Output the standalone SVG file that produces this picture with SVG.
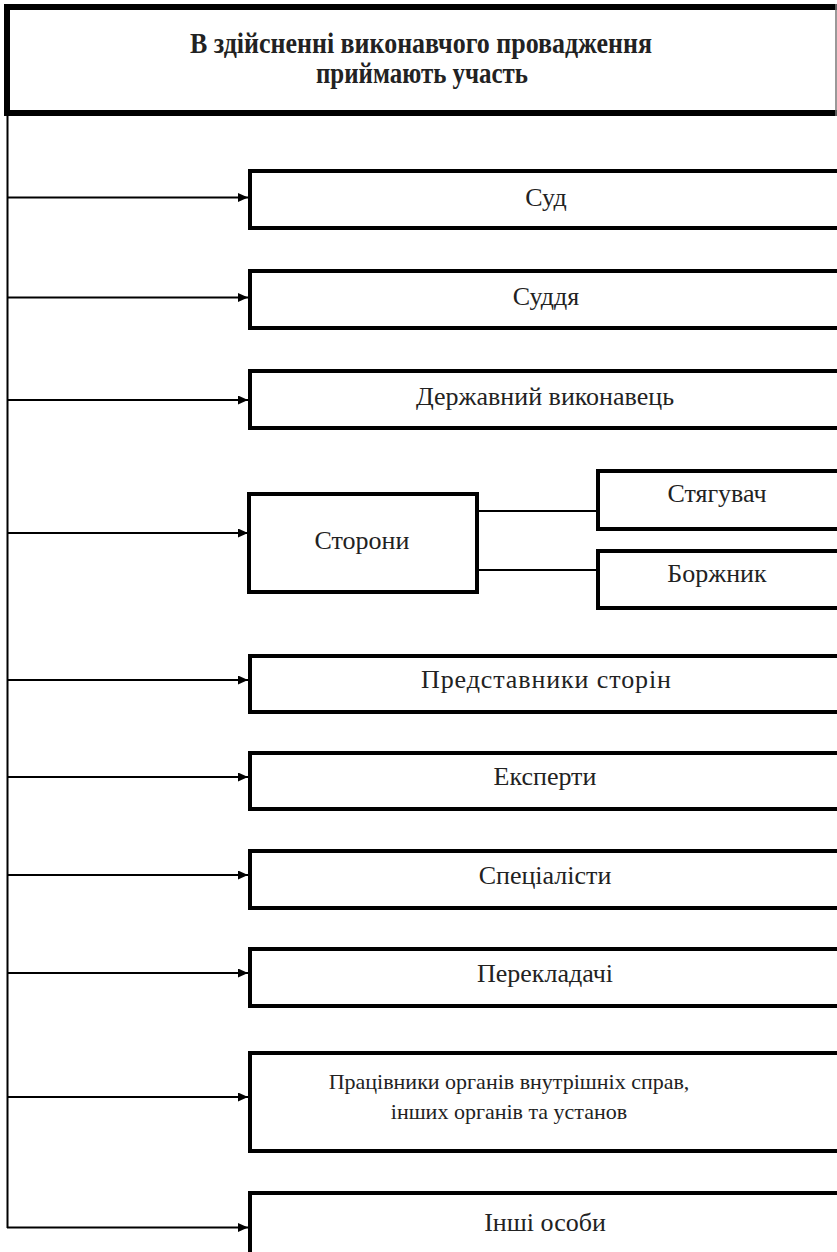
<svg xmlns="http://www.w3.org/2000/svg" width="837" height="1252" viewBox="0 0 837 1252">
<style>
.box{fill:#fff;stroke:#000;stroke-width:4}
.c{stroke:#000;stroke-width:2;fill:none}
</style>
<defs>
<marker id="ar" markerWidth="12" markerHeight="10" refX="10" refY="4.5" orient="auto" markerUnits="userSpaceOnUse">
<path d="M0,0 L10,4.5 L0,9 Z" fill="#000"/>
</marker>
</defs>
<rect width="837" height="1252" fill="#fff"/>
<g font-family="Liberation Serif, Times New Roman, DejaVu Serif, serif" fill="#222" text-anchor="middle" font-size="26">
<g id="title">
<rect x="7" y="7" width="840" height="106" fill="#fff" stroke="#000" stroke-width="6"/>
<line x1="836" y1="4" x2="836" y2="116" stroke="#777" stroke-width="1.5"/>
<text font-weight="bold" font-size="29" x="421" y="53" textLength="462" lengthAdjust="spacingAndGlyphs">В здійсненні виконавчого провадження</text>
<text font-weight="bold" font-size="29" x="422" y="83" textLength="212" lengthAdjust="spacingAndGlyphs">приймають участь</text>
</g>
<g id="connectors">
<line class="c" x1="7.5" y1="116" x2="7.5" y2="1228"/>
<line class="c" x1="7" y1="197.5" x2="248" y2="197.5" marker-end="url(#ar)"/>
<line class="c" x1="7" y1="297.5" x2="248" y2="297.5" marker-end="url(#ar)"/>
<line class="c" x1="7" y1="400" x2="248" y2="400" marker-end="url(#ar)"/>
<line class="c" x1="7" y1="533" x2="248" y2="533" marker-end="url(#ar)"/>
<line class="c" x1="7" y1="680" x2="248" y2="680" marker-end="url(#ar)"/>
<line class="c" x1="7" y1="777" x2="248" y2="777" marker-end="url(#ar)"/>
<line class="c" x1="7" y1="875" x2="248" y2="875" marker-end="url(#ar)"/>
<line class="c" x1="7" y1="973" x2="248" y2="973" marker-end="url(#ar)"/>
<line class="c" x1="7" y1="1097" x2="248" y2="1097" marker-end="url(#ar)"/>
<line class="c" x1="7" y1="1227.5" x2="248" y2="1227.5" marker-end="url(#ar)"/>
<line class="c" x1="477" y1="511" x2="597" y2="511"/>
<line class="c" x1="477" y1="570" x2="597" y2="570"/>
</g>
<g id="n1"><rect class="box" x="250" y="171" width="600" height="57"/><text x="546" y="206">Суд</text></g>
<g id="n2"><rect class="box" x="250" y="271" width="600" height="57"/><text x="546" y="305">Суддя</text></g>
<g id="n3"><rect class="box" x="250" y="371" width="600" height="57"/><text x="545" y="405">Державний виконавець</text></g>
<g id="n4"><rect class="box" x="249" y="494" width="228" height="98"/><text x="362" y="549">Сторони</text></g>
<g id="n4a"><rect class="box" x="598" y="471" width="250" height="58"/><text x="717" y="502">Стягувач</text></g>
<g id="n4b"><rect class="box" x="598" y="551" width="250" height="57"/><text x="717" y="582">Боржник</text></g>
<g id="n5"><rect class="box" x="250" y="656" width="600" height="56"/><text x="546" y="688" textLength="250" lengthAdjust="spacing">Представники сторін</text></g>
<g id="n6"><rect class="box" x="250" y="753" width="600" height="56"/><text x="545" y="785">Експерти</text></g>
<g id="n7"><rect class="box" x="250" y="851" width="600" height="57"/><text x="545" y="884">Спеціалісти</text></g>
<g id="n8"><rect class="box" x="250" y="949" width="600" height="57"/><text x="545" y="982">Перекладачі</text></g>
<g id="n9"><rect class="box" x="250" y="1053" width="600" height="98"/><text font-size="22" x="509" y="1089">Працівники органів внутрішніх справ,</text><text font-size="22" x="509" y="1119">інших органів та установ</text></g>
<g id="n10"><rect class="box" x="250" y="1193" width="600" height="80"/><text x="545" y="1231">Інші особи</text></g>
</g>
</svg>
